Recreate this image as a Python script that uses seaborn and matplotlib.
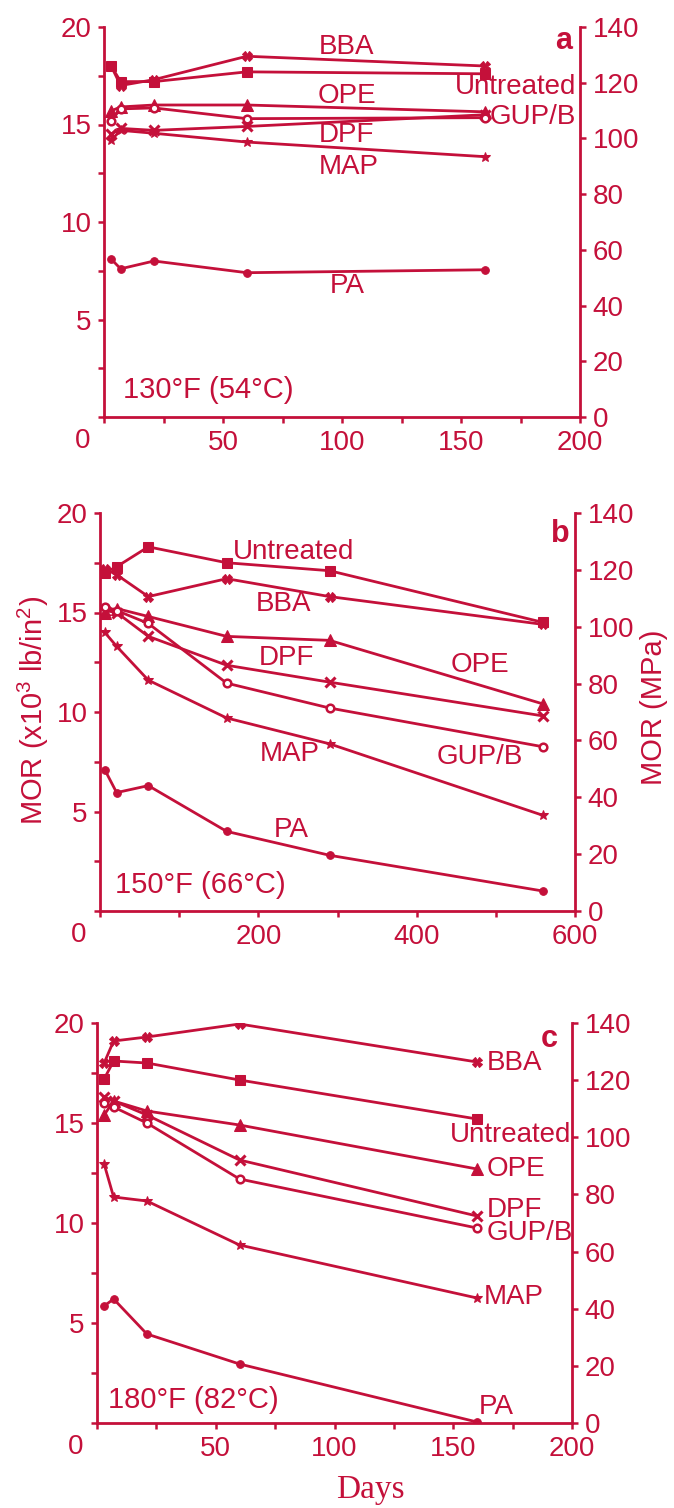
import matplotlib
matplotlib.use("Agg")
import matplotlib.pyplot as plt
import seaborn as sns
import pandas as pd
from matplotlib.ticker import MultipleLocator, FuncFormatter

sns.set_style("white")
plt.rcParams["font.family"] = ["Liberation Sans", "DejaVu Sans"]
plt.rcParams["mathtext.default"] = "regular"

RED = "#C4103A"

# ---- data (MOR in 10^3 lb/in^2) ----
treatments = ["Untreated", "BBA", "OPE", "DPF", "GUP/B", "MAP", "PA"]

days_a = [3, 7, 21, 60, 160]
a_untreated = [18.0, 17.2, 17.2, 17.7, 17.6]
a_bba = [18.0, 17.0, 17.3, 18.5, 18.0]
a_ope = [15.7, 15.9, 16.0, 16.0, 15.65]
a_dpf = [14.5, 14.8, 14.7, 14.9, 15.5]
a_gupb = [15.2, 15.8, 15.85, 15.3, 15.35]
a_map = [14.2, 14.7, 14.55, 14.1, 13.35]
a_pa = [8.1, 7.6, 8.0, 7.4, 7.55]

days_b = [6, 21, 61, 160, 290, 560]
b_untreated = [17.0, 17.3, 18.3, 17.5, 17.1, 14.5]
b_bba = [17.2, 16.9, 15.8, 16.7, 15.8, 14.4]
b_ope = [15.0, 15.2, 14.8, 13.8, 13.6, 10.4]
b_dpf = [15.1, 15.0, 13.8, 12.35, 11.5, 9.8]
b_gupb = [15.3, 15.1, 14.45, 11.45, 10.2, 8.25]
b_map = [14.0, 13.3, 11.6, 9.7, 8.4, 4.8]
b_pa = [7.1, 5.95, 6.3, 4.0, 2.8, 1.0]

days_c = [3, 7, 21, 60, 160]
c_untreated = [17.2, 18.1, 18.0, 17.15, 15.2]
c_bba = [18.0, 19.1, 19.3, 19.95, 18.05]
c_ope = [15.4, 16.1, 15.6, 14.9, 12.7]
c_dpf = [16.3, 16.1, 15.4, 13.15, 10.35]
c_gupb = [16.0, 15.8, 15.0, 12.2, 9.75]
c_map = [12.95, 11.3, 11.1, 8.9, 6.25]
c_pa = [5.85, 6.2, 4.45, 2.95, 0.05]

# label positions (day, MOR) and alignment
labels_a = [("BBA", 102, 19.0, "center"), ("Untreated", 173, 16.9, "center"),
            ("OPE", 102, 16.45, "center"), ("GUP/B", 180, 15.4, "center"),
            ("DPF", 102, 14.45, "center"), ("MAP", 103, 12.8, "center"),
            ("PA", 102, 6.7, "center")]
labels_b = [("Untreated", 244, 18.05, "center"), ("BBA", 232, 15.45, "center"),
            ("DPF", 236, 12.7, "center"), ("OPE", 480, 12.35, "center"),
            ("MAP", 240, 7.9, "center"), ("GUP/B", 480, 7.75, "center"),
            ("PA", 242, 4.05, "center")]
labels_c = [("BBA", 164, 18.0, "left"), ("Untreated", 174, 14.4, "center"),
            ("OPE", 164, 12.7, "left"), ("DPF", 164, 10.65, "left"),
            ("GUP/B", 164, 9.5, "left"), ("MAP", 163, 6.3, "left"),
            ("PA", 168, 0.8, "center")]

marker_style = {
    "Untreated": dict(marker="s", ms=6.5, mfc=RED),
    "BBA": dict(marker="X", ms=7, mfc=RED),
    "OPE": dict(marker="^", ms=8, mfc=RED),
    "DPF": dict(marker="x", ms=6.5, mew=2.2),
    "GUP/B": dict(marker="o", ms=5.5, mfc="white", mew=1.8),
    "MAP": dict(marker="*", ms=7, mfc=RED),
    "PA": dict(marker="o", ms=5.5, mfc=RED),
}

panels = [
    dict(days=days_a, series=[a_untreated, a_bba, a_ope, a_dpf, a_gupb, a_map, a_pa],
         labels=labels_a, xmax=200, xmajor=50, xminor=25, letter="a",
         letter_pos=(193, 19.3), temp="130°F (54°C)", temp_pos=(8, 1.4),
         rect=[104, 27, 580, 417]),
    dict(days=days_b, series=[b_untreated, b_bba, b_ope, b_dpf, b_gupb, b_map, b_pa],
         labels=labels_b, xmax=600, xmajor=200, xminor=100, letter="b",
         letter_pos=(581, 18.95), temp="150°F (66°C)", temp_pos=(19, 1.3),
         rect=[100, 513, 575, 911]),
    dict(days=days_c, series=[c_untreated, c_bba, c_ope, c_dpf, c_gupb, c_map, c_pa],
         labels=labels_c, xmax=200, xmajor=50, xminor=25, letter="c",
         letter_pos=(190.5, 19.2), temp="180°F (82°C)", temp_pos=(4.6, 1.15),
         rect=[97, 1023, 572, 1423]),
]

W, H = 674, 1508
fig = plt.figure(figsize=(W / 100, H / 100), dpi=100)
fig.patch.set_facecolor("white")

FS = 20

for p in panels:
    l, t, r, b = p["rect"]
    ax = fig.add_axes([l / W, 1 - b / H, (r - l) / W, (b - t) / H])
    ax.set_facecolor("none")

    for name, vals in zip(treatments, p["series"]):
        df = pd.DataFrame({"day": p["days"], "mor": vals})
        sns.lineplot(data=df, x="day", y="mor", ax=ax, color=RED, lw=2.0,
                     mec=RED, **marker_style[name])

    for txt, x, y, ha in p["labels"]:
        ax.text(x, y, txt, color=RED, fontsize=FS, ha=ha, va="center")
    ax.text(*p["temp_pos"], p["temp"], color=RED, fontsize=21, ha="left", va="center")
    ax.text(*p["letter_pos"], p["letter"], color=RED, fontsize=22,
            fontweight="bold", ha="center", va="center")

    ax.set_xlim(0, p["xmax"])
    ax.set_ylim(0, 20)
    ax.set_xlabel("")
    ax.set_ylabel("")
    ax.xaxis.set_major_locator(MultipleLocator(p["xmajor"]))
    ax.xaxis.set_minor_locator(MultipleLocator(p["xminor"]))
    ax.xaxis.set_major_formatter(FuncFormatter(lambda v, pos: "" if v == 0 else f"{v:.0f}"))
    ax.yaxis.set_major_locator(MultipleLocator(5))
    ax.yaxis.set_minor_locator(MultipleLocator(2.5))
    ax.annotate("0", xy=(0, 0), xycoords="axes fraction", xytext=(-21, -24),
                textcoords="offset pixels", color=RED, fontsize=FS,
                ha="center", va="center")
    ax.yaxis.set_major_formatter(FuncFormatter(lambda v, pos: "" if v == 0 else f"{v:.0f}"))

    ax.tick_params(which="both", direction="out", length=4, width=1.8,
                   color=RED, labelcolor=RED, labelsize=FS, pad=5)
    ax.tick_params(which="both", top=False, right=False, bottom=True, left=True)
    for side in ["top", "right"]:
        ax.spines[side].set_visible(False)
    for side in ["left", "bottom"]:
        ax.spines[side].set_color(RED)
        ax.spines[side].set_linewidth(2.0)

    ax2 = ax.twinx()
    ax2.set_ylim(0, 140)
    ax2.yaxis.set_major_locator(MultipleLocator(20))
    ax2.tick_params(direction="out", length=4, width=1.8, color=RED,
                    labelcolor=RED, labelsize=FS, pad=5)
    for side in ["top", "left", "bottom"]:
        ax2.spines[side].set_visible(False)
    ax2.spines["right"].set_color(RED)
    ax2.spines["right"].set_linewidth(2.0)

fig.text(33 / W, 1 - 710 / H, "MOR (x10$^{3}$ lb/in$^{2}$)", color=RED,
         fontsize=21, rotation=90, ha="center", va="center")
fig.text(654 / W, 1 - 707 / H, "MOR (MPa)", color=RED, fontsize=21,
         rotation=90, ha="center", va="center")
fig.text(370 / W, 1 - 1490 / H, "Days", color=RED, fontsize=24,
         family=["Liberation Serif", "DejaVu Serif"], ha="center", va="center")

fig.savefig("out.png", dpi=100, facecolor="white")
